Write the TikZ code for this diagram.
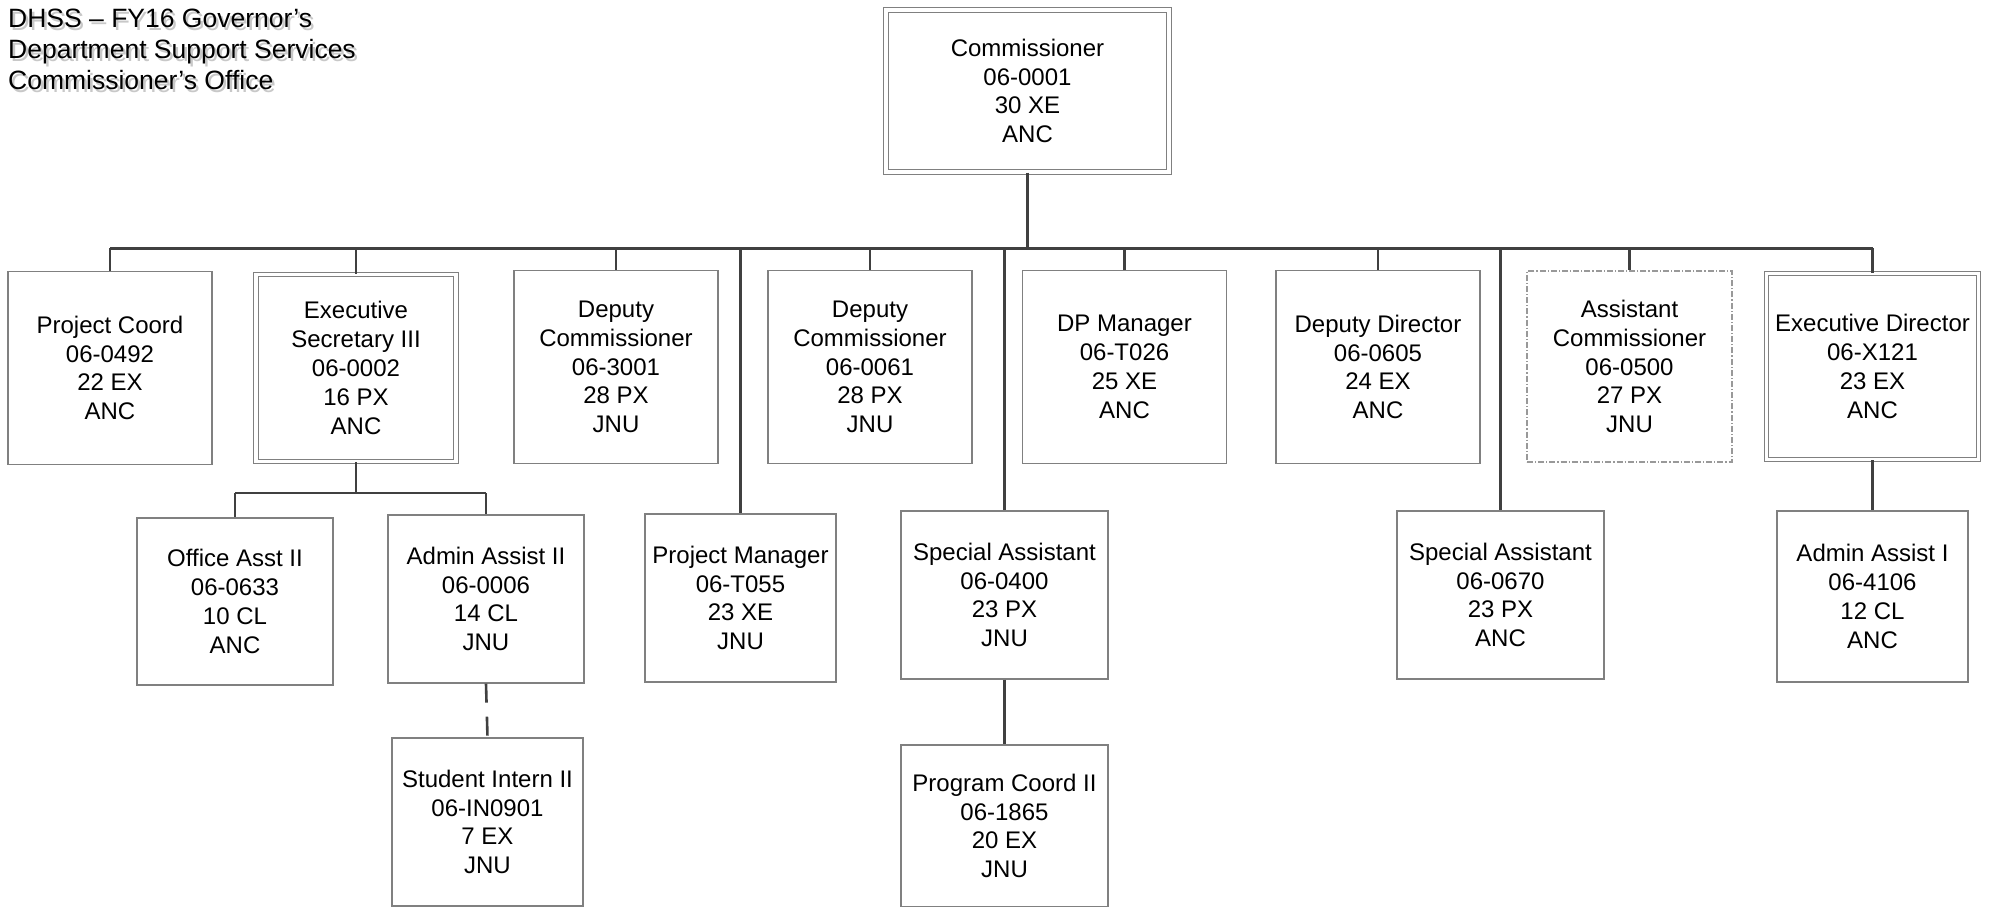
\documentclass[tikz,border=0pt]{standalone}
\usepackage{fontspec}
\setmainfont{Liberation Sans}
\definecolor{boxgray}{HTML}{808080}
\definecolor{linegray}{HTML}{404040}
\definecolor{shadowgray}{HTML}{C8C8C8}
\tikzset{
  orgbox/.style={draw=boxgray, line width=1.3pt, fill=white, inner sep=0pt, align=center,
    font=\fontsize{24}{28.8}\selectfont, text=black},
  dblbox/.style={orgbox, double=white, double distance=3.2pt, line width=1.1pt},
  dashdotbox/.style={orgbox, draw=boxgray!80, line width=1.1pt, dash pattern=on 6pt off 2pt on 1.2pt off 2pt},
  conn/.style={draw=linegray, line width=2.6pt},
  titletext/.style={align=left, inner sep=0pt, font=\fontsize{26.5}{31}\selectfont}
}
\begin{document}
\begin{tikzpicture}[x=1pt,y=-1pt]
\useasboundingbox (0,0) rectangle (1990,907);
% title with shadow
\node[titletext, text=shadowgray, anchor=north west] (titleshadow) at (10.5,11.5) {DHSS -- FY16 Governor’s\\Department Support Services\\Commissioner’s Office};
\node[titletext, anchor=north west] (title) at (8,9) {DHSS -- FY16 Governor’s\\Department Support Services\\Commissioner’s Office};

\coordinate (bus) at (0,248);

% top
\node[dblbox, minimum width=283pt, minimum height=162pt] (comm) at (1027.5,91) {Commissioner\\06-0001\\30 XE\\ANC};

% level 2
\node[orgbox, minimum width=204pt, minimum height=193pt] (pc) at (110,368) {Project Coord\\06-0492\\22 EX\\ANC};
\node[dblbox, minimum width=200pt, minimum height=187pt] (es) at (356,368) {Executive\\Secretary III\\06-0002\\16 PX\\ANC};
\node[orgbox, minimum width=204pt, minimum height=193pt] (dc1) at (616,367) {Deputy\\Commissioner\\06-3001\\28 PX\\JNU};
\node[orgbox, minimum width=204pt, minimum height=193pt] (dc2) at (870,367) {Deputy\\Commissioner\\06-0061\\28 PX\\JNU};
\node[orgbox, minimum width=204pt, minimum height=193pt] (dp) at (1124.5,367) {DP Manager\\06-T026\\25 XE\\ANC};
\node[orgbox, minimum width=204pt, minimum height=193pt] (dd) at (1378,367) {Deputy Director\\06-0605\\24 EX\\ANC};
\node[dashdotbox, minimum width=205pt, minimum height=191pt] (ac) at (1629.5,366.5) {Assistant\\Commissioner\\06-0500\\27 PX\\JNU};
\node[dblbox, minimum width=212pt, minimum height=186pt] (ed) at (1872.5,366.5) {Executive Director\\06-X121\\23 EX\\ANC};

% level 3
\node[orgbox, minimum width=196pt, minimum height=167pt] (oa) at (235,601.5) {Office Asst II\\06-0633\\10 CL\\ANC};
\node[orgbox, minimum width=196pt, minimum height=168pt] (aa) at (486,599) {Admin Assist II\\06-0006\\14 CL\\JNU};
\node[orgbox, minimum width=191pt, minimum height=168pt] (pm) at (740.5,598) {Project Manager\\06-T055\\23 XE\\JNU};
\node[orgbox, minimum width=207pt, minimum height=168pt] (sa1) at (1004.5,595) {Special Assistant\\06-0400\\23 PX\\JNU};
\node[orgbox, minimum width=207pt, minimum height=168pt] (sa2) at (1500.5,595) {Special Assistant\\06-0670\\23 PX\\ANC};
\node[orgbox, minimum width=191pt, minimum height=171pt] (ai) at (1872.5,596.5) {Admin Assist I\\06-4106\\12 CL\\ANC};

% level 4
\node[orgbox, minimum width=191pt, minimum height=168pt] (si) at (487.5,822) {Student Intern II\\06-IN0901\\7 EX\\JNU};
\node[orgbox, minimum width=207pt, minimum height=162pt] (pc2) at (1004.5,826) {Program Coord II\\06-1865\\20 EX\\JNU};

% connectors
\draw[conn, line width=3pt] (comm.south) -- (comm.south |- bus);
\draw[conn, line width=3pt] (pc.north |- bus) -- (ed.north |- bus);
\foreach \n in {pc,es,dc1,dc2,dp,dd,ac,ed,pm,sa1,sa2}
  \draw[conn] (\n.north |- bus) -- (\n.north);
\coordinate (esbus) at (0,493);
\draw[conn] (es.south) -- (es.south |- esbus);
\draw[conn] (oa.north |- esbus) -- (aa.north |- esbus);
\draw[conn] (oa.north |- esbus) -- (oa.north);
\draw[conn] (aa.north |- esbus) -- (aa.north);
\draw[conn, dash pattern=on 19pt off 14pt] (aa.south) -- (si.north);
\draw[conn] (sa1.south) -- (pc2.north);
\draw[conn] (ed.south) -- (ai.north);
\end{tikzpicture}
\end{document}
